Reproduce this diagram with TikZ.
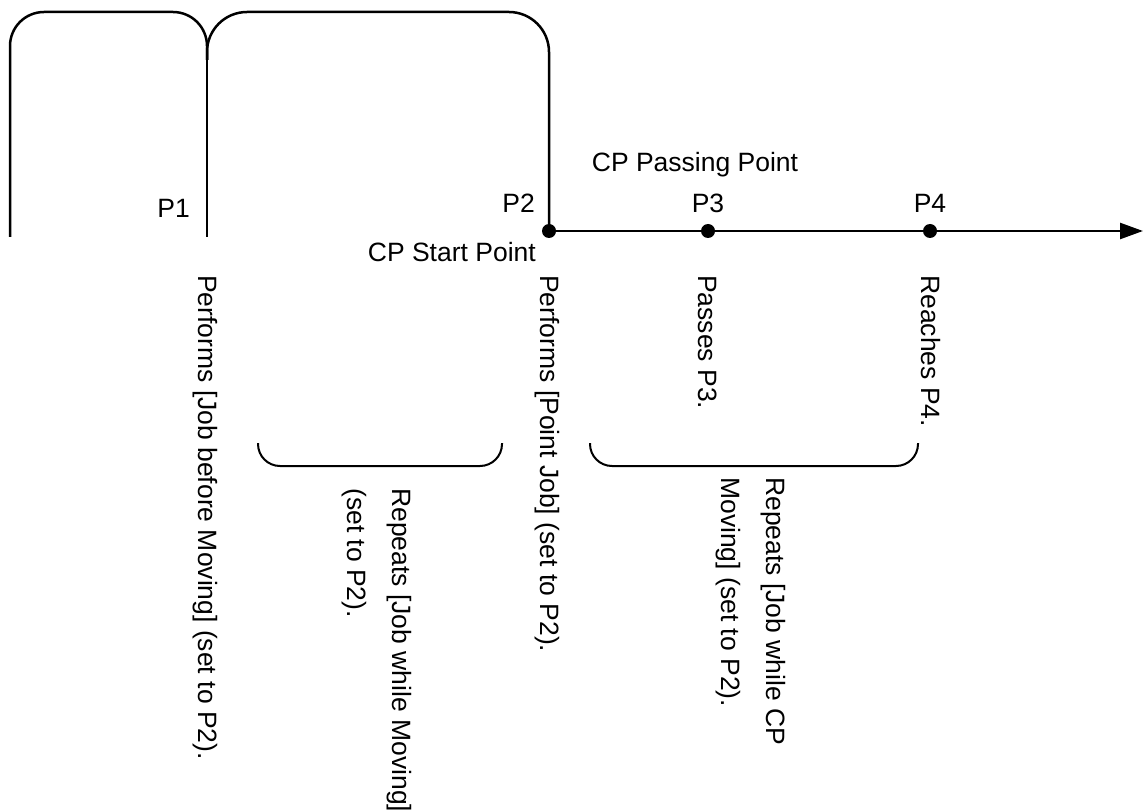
\documentclass[tikz,border=0pt]{standalone}
\usepackage{fontspec}
\setmainfont{Liberation Sans}
\usetikzlibrary{arrows.meta}
\tikzset{
  lbl/.style={inner sep=0pt, font={\fontsize{26.5}{45}\selectfont}},
  rot/.style={lbl, rotate=-90, align=left},
  dot/.style={circle, fill=black, inner sep=0pt, minimum size=14pt},
  path/.style={line width=2.5pt, line cap=butt},
  brace/.style={line width=2pt, rounded corners=22pt},
}
\begin{document}
\begin{tikzpicture}[x=1pt,y=-1pt]
\useasboundingbox (0,0) rectangle (1143,810);
% arches
\draw[path, rounded corners=34pt] (10,237) -- (10,12) -- (207,12) -- (207,60);
\draw[path] (207,44) -- (207,237);
\draw[path, rounded corners=40pt] (207,60) -- (207,12) -- (549,12) -- (549,231);
% points
\node[dot] (p2) at (549,231) {};
\node[dot] (p3) at (708,231) {};
\node[dot] (p4) at (930,231) {};
\coordinate (end) at (1143,231);
\draw[path, -{Triangle[length=23pt,width=16pt]}] (p2.center) -- (p3) -- (p4) -- (end);
% labels
\node[lbl, anchor=base east] (l1) at (190,218) {P1};
\node[lbl, anchor=base east] (l2) at (535,213) {P2};
\node[lbl, anchor=base] (l3) at (708,213) {P3};
\node[lbl, anchor=base] (l4) at (930,213) {P4};
\node[lbl, anchor=base east] (cps) at (536,262) {CP Start Point};
\node[lbl, anchor=base] (cpp) at (695,172) {CP Passing Point};
% braces
\draw[brace] (258,443) -- (258,466) -- (502,466) -- (502,443);
\draw[brace] (590,443) -- (590,466) -- (918,466) -- (918,443);
% rotated texts
\node[rot, anchor=base west] (ta) at (198,275) {Performs [Job before Moving] (set to P2).};
\node[rot, anchor=north west] (tb) at (412,488) {Repeats [Job while Moving]\\(set to P2).};
\node[rot, anchor=base west] (tc) at (540,275) {Performs [Point Job] (set to P2).};
\node[rot, anchor=base west] (td) at (698,275) {Passes P3.};
\node[rot, anchor=base west] (te) at (921,275) {Reaches P4.};
\node[rot, anchor=north west] (tf) at (786,477) {Repeats [Job while CP\\Moving] (set to P2).};
\end{tikzpicture}
\end{document}
